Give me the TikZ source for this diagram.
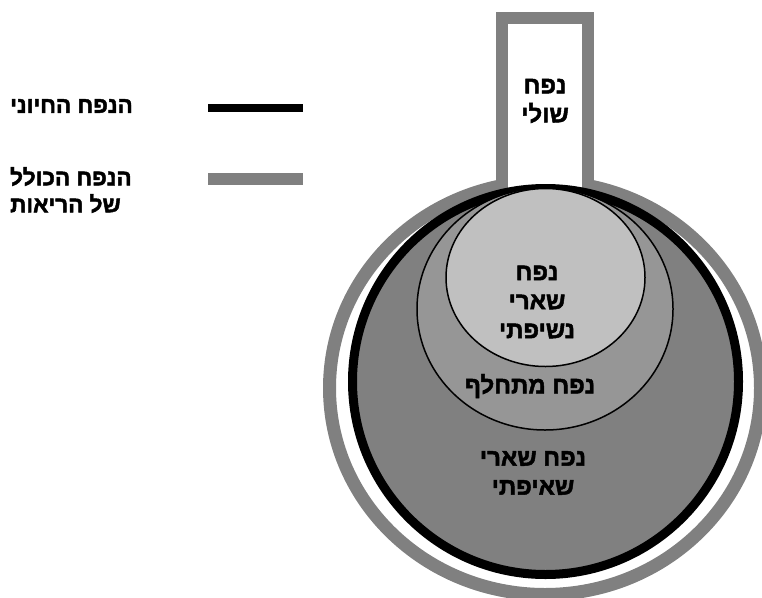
\documentclass[tikz,border=0pt]{standalone}
\usepackage{fontspec}
\newfontfamily\hebfont[Script=Hebrew, FakeBold=2]{Liberation Sans Bold}
\TeXXeTstate=1
\newcommand{\rl}[1]{\beginR#1\endR}
\definecolor{ringgray}{HTML}{808080}
\definecolor{midgray}{HTML}{969696}
\definecolor{lightgray2}{HTML}{C0C0C0}
\tikzset{
  lbl/.style={inner sep=0pt, align=center, font=\hebfont\fontsize{24}{29}\selectfont},
  leglbl/.style={inner sep=0pt, align=left, anchor=west, font=\hebfont\fontsize{22.5}{27}\selectfont},
  region/.style={draw=black, line width=1.5pt}
}
\begin{document}
\begin{tikzpicture}[x=1pt,y=-1pt]
\useasboundingbox (0,0) rectangle (762,597);
% total lung capacity ring
\draw[ringgray, line width=13pt] (545,388) ellipse [x radius=215.5, y radius=206.5];
% dead space tube
\draw[ringgray, line width=12pt, fill=white] (502,205) -- (502,18) -- (588,18) -- (588,205);
% vital capacity circle
\draw[black, line width=9pt, fill=ringgray] (545.5,381.5) circle [radius=193];
% tidal volume
\draw[region, fill=midgray] (545,309) ellipse [x radius=128, y radius=121];
% expiratory reserve
\draw[region, fill=lightgray2] (545.5,277.5) ellipse [x radius=99.5, y radius=89];
% labels
\node[lbl] (tube) at (545,101) {\rl{נפח}\\\rl{שולי}};
\node[lbl] (erv) at (537,302) {\rl{נפח}\\\rl{שארי}\\\rl{נשיפתי}};
\node[lbl] (tv) at (530,386) {\rl{נפח מתחלף}};
\node[lbl] (irv) at (533,473) {\rl{נפח שארי}\\\rl{שאיפתי}};
% legend
\node[leglbl] (vc) at (10,106) {\rl{הנפח החיוני}};
\node[leglbl] (tlc) at (10,190) {\rl{הנפח הכולל}\\\rl{של הריאות}};
\coordinate (k1a) at (208,107.5);
\coordinate (k1b) at (303,107.5);
\coordinate (k2a) at (208,179);
\coordinate (k2b) at (303,179);
\draw[black, line width=8pt] (k1a) -- (k1b);
\draw[ringgray, line width=12pt] (k2a) -- (k2b);
\end{tikzpicture}
\end{document}
